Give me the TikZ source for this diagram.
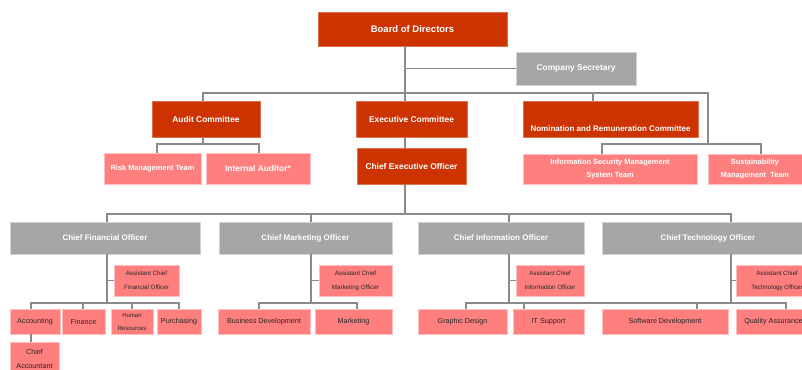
\documentclass[tikz,border=0pt]{standalone}
\usepackage{fontspec}
\setmainfont{Liberation Sans}
\definecolor{boardred}{HTML}{CC3300}
\definecolor{teampink}{HTML}{FF7F7F}
\definecolor{officegray}{HTML}{A6A6A6}
\definecolor{linkgray}{HTML}{8A8A8A}

\begin{document}
\begin{tikzpicture}[x=1pt, y=-1pt,
	redbox/.style={rectangle, inner sep=1pt, align=center, fill=boardred, draw=boardred!70!white, line width=0.6pt, text=white, font=\bfseries\fontsize{8.4}{10}\selectfont, minimum height=36pt},
	greybox/.style={rectangle, inner sep=1pt, align=center, fill=officegray, draw=officegray!50!white, line width=0.6pt, text=white, font=\bfseries\fontsize{8}{10}\selectfont, minimum height=32pt},
	pinkbox/.style={rectangle, inner sep=1pt, align=center, fill=teampink, draw=teampink!50!white, line width=0.6pt, text=black!85, font=\fontsize{7.2}{14}\selectfont, minimum height=25pt},
	teambox/.style={pinkbox, text=white, font=\bfseries\fontsize{7.4}{13}\selectfont, minimum height=31pt},
	asstbox/.style={pinkbox, font=\fontsize{6.2}{14}\selectfont, minimum height=31pt},
	link/.style={draw=linkgray, line width=1.25pt}]
	\useasboundingbox (0,0) rectangle (802,369);
	\clip (0,0) rectangle (802,369);
	\node[redbox, minimum width=189pt, minimum height=34pt, font=\bfseries\fontsize{9.5}{11}\selectfont] (board) at (412.5,29) {Board of Directors};
	\node[greybox, minimum width=120pt, minimum height=33pt, font=\bfseries\fontsize{8.4}{10}\selectfont] (secretary) at (576,68.5) {Company Secretary};
	\node[redbox, minimum width=108pt] (audit) at (206,119) {Audit Committee};
	\node[redbox, minimum width=111pt] (exec) at (411.5,119) {Executive Committee};
	\node[redbox, minimum width=175pt, font=\bfseries\fontsize{8}{10}\selectfont, text height=24pt, text depth=0pt] (nomination) at (610.5,119) {Nomination and Remuneration Committee};
	\node[redbox, minimum width=109pt] (ceo) at (411.5,166) {Chief Executive Officer};
	\node[teambox, minimum width=97pt] (risk) at (152.5,168.5) {Risk Management Team};
	\node[teambox, minimum width=104pt, font=\bfseries\fontsize{8.4}{10}\selectfont] (auditor) at (258,168.5) {Internal Auditor*};
	\node[teambox, minimum width=174pt, minimum height=30pt] (infosec) at (610,169) {Information Security Management\\System Team};
	\node[teambox, minimum width=94pt, minimum height=30pt] (sustain) at (755,169) {Sustainability\\Management\ \ Team};
	\node[greybox, minimum width=190pt] (cfo) at (105,238) {Chief Financial Officer};
	\node[greybox, minimum width=173pt] (cmo) at (305.5,238) {Chief Marketing Officer};
	\node[greybox, minimum width=166pt] (cio) at (501,238) {Chief Information Officer};
	\node[greybox, minimum width=212pt] (cto) at (708,238) {Chief Technology Officer};
	\node[asstbox, minimum width=65pt] (acfo) at (146.5,280.5) {Assistant Chief\\Financial Officer};
	\node[asstbox, minimum width=73pt] (acmo) at (355.5,280.5) {Assistant Chief\\Marketing Officer};
	\node[asstbox, minimum width=68pt] (acio) at (550,280.5) {Assistant Chief\\Information Officer};
	\node[asstbox, minimum width=82pt] (acto) at (777,280.5) {Assistant Chief\\Technology Officer};
	\node[pinkbox, minimum width=50pt] (acc) at (35,321.5) {Accounting};
	\node[pinkbox, minimum width=43pt] (fin) at (83.5,321.5) {Finance};
	\node[pinkbox, minimum width=42pt, font=\fontsize{6}{13}\selectfont] (hr) at (132,321.5) {Human\\Resources};
	\node[pinkbox, minimum width=44pt] (pur) at (179,321.5) {Purchasing};
	\node[pinkbox, minimum width=49pt, minimum height=34pt] (chacc) at (34.5,359) {Chief\\Accountant};
	\node[pinkbox, minimum width=92pt] (bizdev) at (264,321.5) {Business Development};
	\node[pinkbox, minimum width=77pt] (mkt) at (353.5,321.5) {Marketing};
	\node[pinkbox, minimum width=89pt] (gd) at (462.5,321.5) {Graphic Design};
	\node[pinkbox, minimum width=71pt] (its) at (548.5,321.5) {IT Support};
	\node[pinkbox, minimum width=126pt] (swd) at (665,321.5) {Software Development};
	\node[pinkbox, minimum width=75pt] (qa) at (773.5,321.5) {Quality Assurance};
	\coordinate (spine) at (405,0);
	\coordinate (cbar) at (405,93);
	\coordinate (auditj) at (203,144);
	\coordinate (nomj) at (708,144);
	\coordinate (obar) at (405,214);
	\coordinate (cfoj) at (107,303);
	\coordinate (cmoj) at (311,303);
	\coordinate (cioj) at (509,303);
	\coordinate (ctoj) at (731,303);
	\draw[link] (spine |- board.south) -- (spine |- exec.north);
	\draw[link] (spine |- exec.south) -- (spine |- ceo.north);
	\draw[link] (spine |- ceo.south) -- (obar);
	\draw[link] (spine |- secretary.west) -- (secretary.west);
	\draw[link] (auditj |- audit.north) |- (cbar) -| (nomj);
	\draw[link] ([xshift=-17.5pt]nomination.north) |- (cbar);
	\draw[link] (auditj |- audit.south) -- (auditj);
	\draw[link] ([xshift=4.5pt]risk.north) |- (auditj);
	\draw[link] ([xshift=1pt]auditor.north) |- (auditj);
	\draw[link] ([xshift=-8pt]infosec.north) |- (nomj);
	\draw[link] ([xshift=6pt]sustain.north) |- (nomj);
	\foreach \off/\dx in {cfo/2, cmo/5.5, cio/8, cto/23}
		\draw[link] ([xshift=\dx pt]\off.north) |- (obar);
	\foreach \off/\asst/\j in {cfo/acfo/cfoj, cmo/acmo/cmoj, cio/acio/cioj, cto/acto/ctoj} {
		\draw[link] (\j |- \off.south) -- (\j);
		\draw[link] (\j |- \asst.west) -- (\asst.west);
	}
	\foreach \dept/\dx/\j in {acc/-4/cfoj, fin/-0.5/cfoj, hr/0/cfoj, pur/0/cfoj, bizdev/-5/cmoj, mkt/3.5/cmoj, gd/3.5/cioj, its/-24.5/cioj, swd/32/ctoj, qa/12.5/ctoj}
		\draw[link] ([xshift=\dx pt]\dept.north) |- (\j);
	\draw[link] (cioj) -- (ctoj);
	\draw[link] ([xshift=-4pt]acc.south) -- ([xshift=-3.5pt]chacc.north);
\end{tikzpicture}
\end{document}
